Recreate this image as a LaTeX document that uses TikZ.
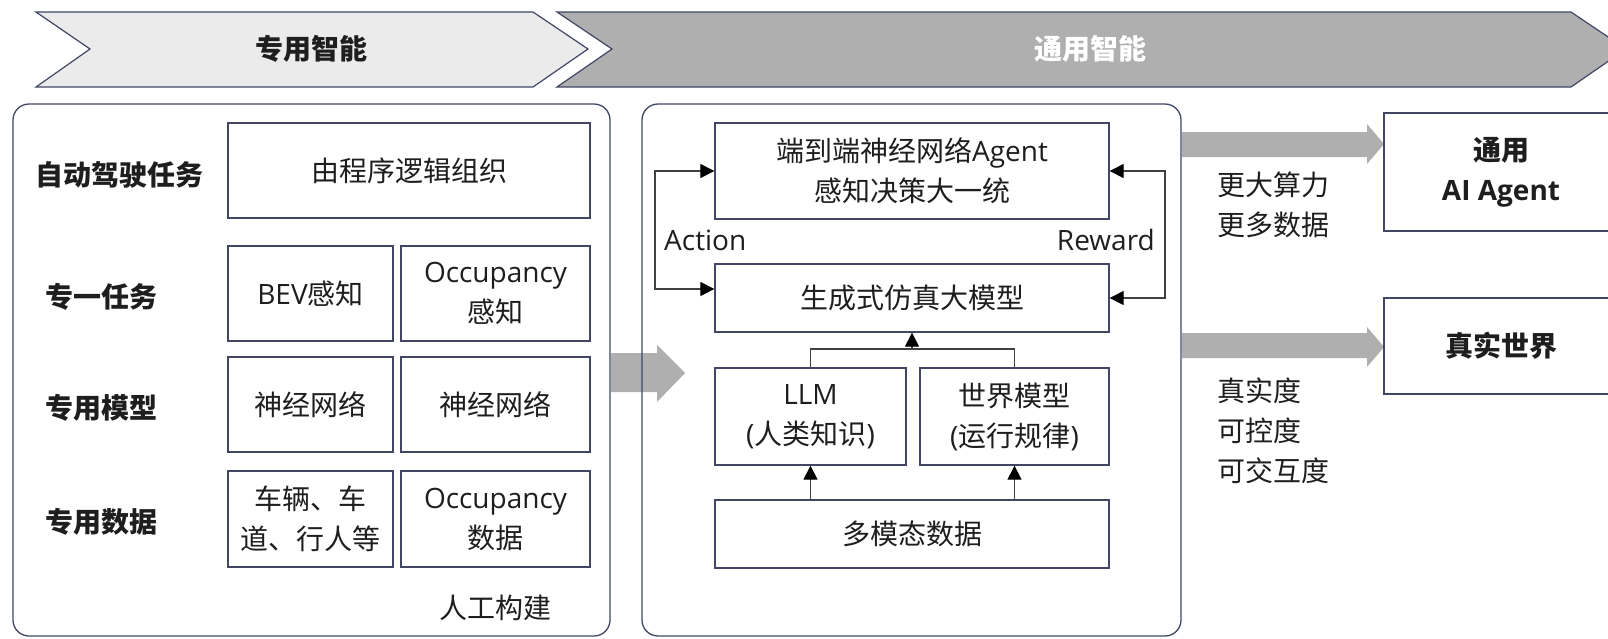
\documentclass[tikz,border=0pt]{standalone}
\usepackage{fontspec}
\setmainfont{Noto Sans CJK SC}
\newfontfamily\lat{Open Sans}
\usetikzlibrary{arrows.meta,calc}
\definecolor{edge}{RGB}{64,70,100}
\definecolor{lightchev}{RGB}{235,235,235}
\definecolor{darkchev}{RGB}{175,175,175}
\definecolor{blockarrow}{RGB}{175,175,175}
\definecolor{txtc}{RGB}{30,30,30}
\newcommand\txt{\fontsize{28}{40}\selectfont}
\tikzset{
  box/.style={draw=edge, line width=1.3pt, fill=white, inner sep=0pt, align=center, font=\txt, text=txtc},
  panel/.style={draw=edge, line width=1.3pt, rounded corners=16pt},
  lab/.style={font=\txt\bfseries, text=txtc, inner sep=0pt},
  plain/.style={font=\txt, text=txtc, inner sep=0pt, align=left},
  conn/.style={draw=black!75, line width=1.2pt},
  tip/.style={},
  arr/.style={conn, -{Triangle[length=14pt,width=14pt,color=black]}},
  darr/.style={conn, {Triangle[length=14pt,width=14pt,color=black]}-{Triangle[length=14pt,width=14pt,color=black]}},
  chev/.style={draw=edge, line width=1.2pt},
  blk/.style={fill=blockarrow, draw=none},
}
\begin{document}
\begin{tikzpicture}[x=1pt,y=-1pt]
\useasboundingbox (0,0) rectangle (1608,638);
% chevrons
\draw[chev, fill=lightchev] (36,12) -- (533,12) -- (588,49) -- (533,87) -- (36,87) -- (90,49) -- cycle;
\draw[chev, fill=darkchev] (557,12) -- (1571,12) -- (1626,49) -- (1571,87) -- (557,87) -- (612,49) -- cycle;
\node[lab] (t1) at (311,49) {专用智能};
\node[lab, text=white] (t2) at (1090,49) {通用智能};
% block arrows
\fill[blk] (611,353) -- (657,353) -- (657,345) -- (685,373) -- (657,402) -- (657,392) -- (611,392) -- cycle;
\fill[blk] (1182,132) -- (1367,132) -- (1367,124) -- (1384,144) -- (1367,164) -- (1367,157) -- (1182,157) -- cycle;
\fill[blk] (1182,333) -- (1367,333) -- (1367,327) -- (1384,347) -- (1367,367) -- (1367,358) -- (1182,358) -- cycle;
% panels
\draw[panel] (13,104) rectangle (610,636);
\draw[panel] (642,104) rectangle (1181,636);
% left panel
\node[lab, anchor=west] (l1) at (35,175) {自动驾驶任务};
\node[lab, anchor=west] (l2) at (45,297) {专一任务};
\node[lab, anchor=west] (l3) at (45,408) {专用模型};
\node[lab, anchor=west] (l4) at (45,522) {专用数据};
\node[box, minimum width=362pt, minimum height=95pt] (prog) at (409,170.5) {由程序逻辑组织};
\node[box, minimum width=165pt, minimum height=95pt] (bev) at (310.5,293.5) {{\lat BEV}感知};
\node[box, minimum width=189pt, minimum height=95pt] (occ) at (495.5,293.5) {{\lat Occupancy}\\感知};
\node[box, minimum width=165pt, minimum height=95pt] (nn1) at (310.5,404.5) {神经网络};
\node[box, minimum width=189pt, minimum height=95pt] (nn2) at (495.5,404.5) {神经网络};
\node[box, minimum width=165pt, minimum height=96pt] (d1) at (310.5,519) {车辆、车\\道、行人等};
\node[box, minimum width=189pt, minimum height=96pt] (d2) at (495.5,519) {{\lat Occupancy}\\数据};
\node[plain] (manual) at (495,608) {人工构建};
% middle panel
\node[box, minimum width=394pt, minimum height=96pt] (agent) at (912,171) {端到端神经网络{\lat Agent}\\感知决策大一统};
\node[box, minimum width=394pt, minimum height=68pt] (sim) at (912,298) {生成式仿真大模型};
\node[box, minimum width=191pt, minimum height=97pt] (llm) at (810.5,416.5) {{\lat LLM}\\{\lat(}人类知识{\lat)}};
\node[box, minimum width=189pt, minimum height=97pt] (world) at (1014.5,416.5) {世界模型\\{\lat(}运行规律{\lat)}};
\node[box, minimum width=394pt, minimum height=68pt] (mm) at (912,534) {多模态数据};
\node[plain, anchor=west] (action) at (664,240) {\lat Action};
\node[plain, anchor=east] (reward) at (1155,240) {\lat Reward};
\coordinate (lx) at (655,230);
\coordinate (rx) at (1165,230);
\coordinate (jn) at (912,349);
\draw[darr] ([yshift=9pt]sim.west) -| (lx) |- (agent.west);
\draw[darr] (sim.east) -| (rx) |- (agent.east);
\draw[conn] (llm.north) |- (jn) -| (world.north);
\draw[arr] (jn) -- (sim.south);
\draw[arr] (llm.south |- mm.north) -- (llm.south);
\draw[arr] (world.south |- mm.north) -- (world.south);
% right side
\node[box, minimum width=234pt, minimum height=118pt] (gen) at (1501,172) {\bfseries 通用\\{\lat\bfseries AI Agent}};
\node[box, minimum width=234pt, minimum height=96pt, font=\txt\bfseries] (real) at (1501,346) {真实世界};
\node[plain, anchor=north west] (more) at (1217,172) {更大算力\\更多数据};
\node[plain, anchor=north west] (deg) at (1217,378) {真实度\\可控度\\可交互度};
\end{tikzpicture}
\end{document}
